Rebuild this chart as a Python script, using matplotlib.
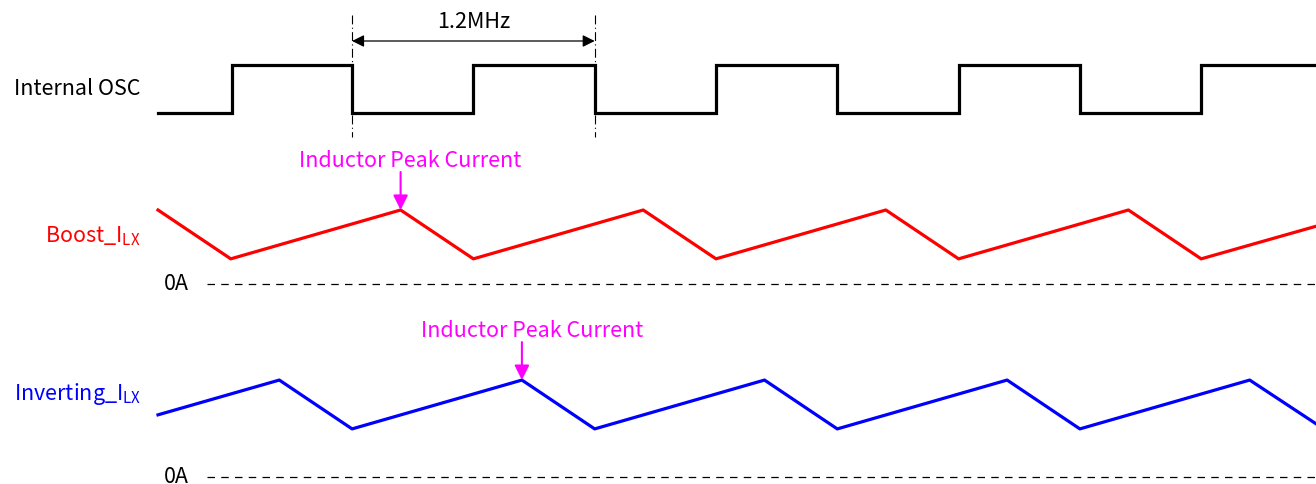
import matplotlib
matplotlib.use("Agg")
import matplotlib.pyplot as plt

plt.rcParams['font.family'] = ['Noto Sans CJK JP', 'DejaVu Sans']
plt.rcParams['mathtext.fontset'] = 'custom'
plt.rcParams['mathtext.rm'] = 'Noto Sans CJK JP'

# time in clock periods (1.2 MHz)
osc_t = [0.0, 0.305, 0.305, 0.8, 0.8, 1.3, 1.3, 1.8, 1.8, 2.3, 2.3, 2.8, 2.8,
         3.3, 3.3, 3.8, 3.8, 4.3, 4.3, 4.773]
osc_v = [0, 0, 1, 1, 0, 0, 1, 1, 0, 0, 1, 1, 0, 0, 1, 1, 0, 0, 1, 1]

boost_t = [0.0, 0.3, 1.0, 1.3, 2.0, 2.3, 3.0, 3.3, 4.0, 4.3, 4.773]
boost_i = [1.0, 0.34, 1.0, 0.34, 1.0, 0.34, 1.0, 0.34, 1.0, 0.34, 0.78]

inv_t = [0.0, 0.5, 0.8, 1.5, 1.8, 2.5, 2.8, 3.5, 3.8, 4.5, 4.773]
inv_i = [0.84, 1.31, 0.65, 1.31, 0.65, 1.31, 0.65, 1.31, 0.65, 1.31, 0.72]

boost_peak_t = 1.0
inv_peak_t = 1.5
period_marks = [0.8, 1.8]

# layout (vertical units: 1 unit = 74 px)
PX = 74.0
FS = 15.5
def yp(px):
    return (484 - px) / PX

osc_base, osc_amp = yp(113), 48 / PX
boost_base = yp(284)
inv_base = yp(477)

fig = plt.figure(figsize=(13.16, 4.84), dpi=100)
ax = fig.add_axes([0, 0, 1, 1])
ax.set_xlim(-158 / 242.6, (1316 - 158) / 242.6)
ax.set_ylim(0, 484 / PX)
ax.axis('off')

# waveforms
ax.plot(osc_t, [osc_base + v * osc_amp for v in osc_v], color='black', lw=2.3,
        solid_joinstyle='miter')
ax.plot(boost_t, [boost_base + v for v in boost_i], color='#ff0000', lw=2.3)
ax.plot(inv_t, [inv_base + v for v in inv_i], color='#0000ff', lw=2.3)

# zero lines
x0 = (207 - 158) / 242.6
for b in [boost_base, inv_base]:
    ax.plot([x0, 4.8], [b, b], color='black', lw=0.9, linestyle=(0, (6, 5)))

# period markers
for t in period_marks:
    ax.plot([t, t], [yp(15), yp(137)], color='black', lw=0.8,
            linestyle=(0, (8, 3, 1, 3)))
ax.annotate('', xy=(period_marks[1], yp(41)), xytext=(period_marks[0], yp(41)),
            arrowprops=dict(arrowstyle='<|-|>', color='black', lw=0.9,
                            mutation_scale=18, shrinkA=0, shrinkB=0))
ax.text(sum(period_marks) / 2, yp(22), '1.2MHz', ha='center', va='center', fontsize=FS)

# labels
lx = (141 - 158) / 242.6
ax.text(lx, yp(89), 'Internal OSC', ha='right', va='center', fontsize=FS)
ax.text(lx, yp(236), r'Boost_I$_\mathregular{LX}$', ha='right', va='center',
        fontsize=FS, color='#ff0000')
ax.text(lx, yp(394), r'Inverting_I$_\mathregular{LX}$', ha='right', va='center',
        fontsize=FS, color='#0000ff')
zx = (189 - 158) / 242.6
ax.text(zx, yp(284), '0A', ha='right', va='center', fontsize=FS)
ax.text(zx, yp(477), '0A', ha='right', va='center', fontsize=FS)

# peak annotations
for t, base, peak, ty in [(boost_peak_t, boost_base, max(boost_i), 161),
                         (inv_peak_t, inv_base, max(inv_i), 331)]:
    ax.annotate('', xy=(t, base + peak), xytext=(t, base + peak + 38 / PX),
                arrowprops=dict(arrowstyle='-|>', color='#ff00ff', lw=1.5,
                                mutation_scale=22, shrinkA=0, shrinkB=0))
    ax.text(t + 10 / 242.6, yp(ty), 'Inductor Peak Current', ha='center',
            va='center', fontsize=FS, color='#ff00ff')

fig.savefig('out.png', dpi=100)
